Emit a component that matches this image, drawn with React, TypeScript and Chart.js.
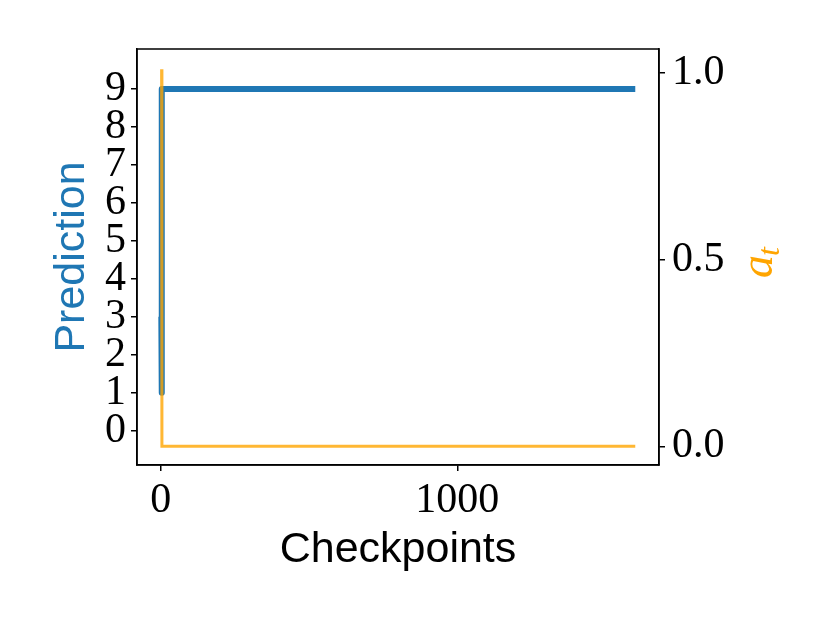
import React, { useEffect, useRef } from "react";
import { Chart, registerables } from "chart.js";

Chart.register(...registerables);

// Checkpoint indices and predicted class (left axis)
const predX = [2, 3, 4, 1600];
const predY = [3, 1, 9, 9];
// a_t values (right axis)
const atX = [3, 4, 1600];
const atY = [1.01, 0, 0];

const xTicks = [0, 1000];
const leftTicks = [0, 1, 2, 3, 4, 5, 6, 7, 8, 9];
const rightTicks = [0, 0.5, 1.0];

const BLUE = "#1f77b4";
const ORANGE = "rgba(255,165,0,0.8)";
const TICK_FONT = "Liberation Serif";
const LABEL_FONT = "Liberation Sans";

const framePlugin = {
  id: "frame",
  afterDraw(chart: any) {
    const { ctx, chartArea } = chart;
    ctx.save();
    ctx.strokeStyle = "#000";
    ctx.lineWidth = 1.5;
    ctx.strokeRect(chartArea.left, chartArea.top, chartArea.right - chartArea.left, chartArea.bottom - chartArea.top);
    // right axis label a_t, rotated counter-clockwise
    ctx.translate(772, 278);
    ctx.rotate(-Math.PI / 2);
    ctx.fillStyle = "#FFA500";
    ctx.textBaseline = "alphabetic";
    ctx.textAlign = "left";
    ctx.font = "italic 46px " + TICK_FONT;
    ctx.fillText("a", 0, 0);
    const w = ctx.measureText("a").width;
    ctx.font = "italic 32px " + TICK_FONT;
    ctx.fillText("t", w - 1, 7);
    ctx.restore();
  },
};

export default function App() {
  const ref = useRef<HTMLCanvasElement>(null);
  useEffect(() => {
    const chart = new Chart(ref.current!, {
      type: "line",
      data: {
        datasets: [
          {
            label: "a_t",
            data: atX.map((x, i) => ({ x, y: atY[i] })),
            borderColor: ORANGE,
            borderWidth: 3,
            pointRadius: 0,
            yAxisID: "y2",
            order: 0,
          },
          {
            label: "Prediction",
            data: predX.map((x, i) => ({ x, y: predY[i] })),
            borderColor: BLUE,
            borderWidth: 6,
            pointRadius: 0,
            yAxisID: "y",
            order: 1,
            borderCapStyle: "butt",
            borderJoinStyle: "round",
          },
        ],
      },
      plugins: [framePlugin],
      options: {
        responsive: false,
        animation: false,
        layout: { padding: { top: 49, left: 0, right: 0, bottom: 0 } },
        plugins: { legend: { display: false }, tooltip: { enabled: false } },
        scales: {
          x: {
            type: "linear",
            min: -80,
            max: 1680,
            afterBuildTicks: (s: any) => {
              s.ticks = xTicks.map((v) => ({ value: v }));
            },
            afterFit: (s: any) => {
              s.height = 158;
            },
            grid: { drawOnChartArea: false, drawTicks: true, tickLength: 6, color: "#000", lineWidth: 1.5 },
            border: { display: true, color: "#000", width: 1.5 },
            ticks: {
              color: "#000",
              font: { family: TICK_FONT, size: 42 },
              padding: 5,
              maxRotation: 0,
              callback: (v: any) => String(v),
            },
            title: {
              display: true,
              text: "Checkpoints",
              color: "#000",
              font: { family: LABEL_FONT, size: 43 },
              padding: { top: 0, bottom: 47 },
            },
          },
          y: {
            type: "linear",
            position: "left",
            min: -0.9,
            max: 10.05,
            afterBuildTicks: (s: any) => {
              s.ticks = leftTicks.map((v) => ({ value: v }));
            },
            afterFit: (s: any) => {
              s.width = 137;
            },
            grid: { drawOnChartArea: false, drawTicks: true, tickLength: 6, color: "#000", lineWidth: 1.5 },
            border: { display: true, color: "#000", width: 1.5 },
            ticks: { color: "#000", font: { family: TICK_FONT, size: 42 }, padding: 5, autoSkip: false },
            title: {
              display: true,
              text: "Prediction",
              color: BLUE,
              font: { family: LABEL_FONT, size: 43 },
              padding: { top: 46, bottom: 0 },
            },
          },
          y2: {
            type: "linear",
            position: "right",
            min: -0.05,
            max: 1.064,
            afterBuildTicks: (s: any) => {
              s.ticks = rightTicks.map((v) => ({ value: v }));
            },
            afterFit: (s: any) => {
              s.width = 171;
            },
            grid: { drawOnChartArea: false, drawTicks: true, tickLength: 6, color: "#000", lineWidth: 1.5 },
            border: { display: true, color: "#000", width: 1.5 },
            ticks: {
              color: "#000",
              font: { family: TICK_FONT, size: 42 },
              padding: 7,
              callback: (v: any) => Number(v).toFixed(1),
            },
          },
        },
      },
    } as any);
    return () => chart.destroy();
  }, []);
  return (
    <canvas
      ref={ref}
      width={830}
      height={623}
      style={{ position: "absolute", left: 0, top: 0, display: "block", background: "#fff" }}
    />
  );
}
